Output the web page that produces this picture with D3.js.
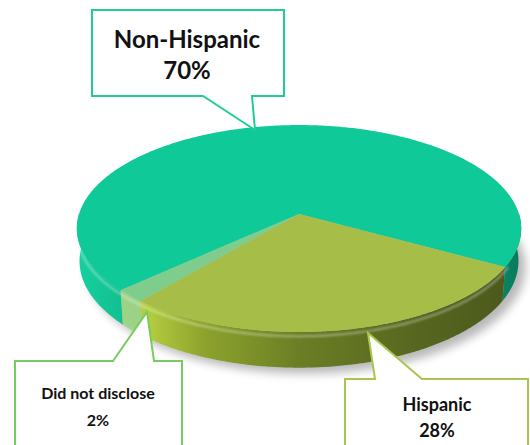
<!DOCTYPE html>
<html><head><meta charset="utf-8">
<script src="https://cdn.jsdelivr.net/npm/d3@7"></script>
<style>body{margin:0;background:#fff;overflow:hidden}</style>
</head><body><svg id="c" width="530" height="445"></svg>
<script>
const categories = ["Non-Hispanic", "Hispanic", "Did not disclose"];
const values = [70, 28, 2];
const percentLabels = ["70%", "28%", "2%"];

const svg = d3.select("#c");
const defs = svg.append("defs");

// 3D projection of a disk (radius 1, thickness H) viewed from above with perspective
const CX = 299, CY = 214, D = 6.33, F = 1392.6, SA = 0.461, CA = 0.887, H = 0.167;
function proj(phi, y) {
  const x = Math.cos(phi), z = Math.sin(phi);
  const d = D - y * SA - z * CA;
  return [CX + F * x / d, CY + F * (z * SA - y * CA) / d];
}

const pie = d3.pie().sort(null).value(d => d)
  .startAngle(227.2 * Math.PI / 180).endAngle(227.2 * Math.PI / 180 + 2 * Math.PI);
const arcs = pie(values);

const topCols = ["#10c998", "#a6be48", "#76d186"];
const topOpac = [1, 1, 0.85];

function grad(id, stops) {
  const g = defs.append("linearGradient").attr("id", id)
    .attr("gradientUnits", "userSpaceOnUse").attr("x1", 80).attr("x2", 522).attr("y1", 0).attr("y2", 0);
  stops.forEach(s => g.append("stop").attr("offset", s[0]).attr("stop-color", s[1]));
}
grad("g0", [[0, "#16cf9e"], [0.12, "#11bb8e"], [0.5, "#0e9f79"], [0.95, "#0a8464"], [1, "#097a5c"]]);
grad("g1", [[0, "#c3dc48"], [0.16, "#b2cb3f"], [0.28, "#8da32d"], [0.5, "#6b7d25"], [0.78, "#56651f"], [1, "#4a571b"]]);
grad("g2", [[0, "#9ad97e"], [1, "#7cc86c"]]);

const blur = defs.append("filter").attr("id", "blur").attr("x", "-20%").attr("y", "-20%").attr("width", "140%").attr("height", "140%");
blur.append("feGaussianBlur").attr("stdDeviation", 5);
const blur2 = defs.append("filter").attr("id", "blur2");
blur2.append("feGaussianBlur").attr("stdDeviation", 1);

function ring(a0, a1, y, n) {
  const pts = [];
  for (let i = 0; i <= n; i++) pts.push(proj(a0 + (a1 - a0) * i / n, y));
  return pts;
}
const line = d3.line();

// shadow
const shadowPts = ring(0, 2 * Math.PI, -H, 180).map(p => [p[0] + 7, p[1] + 6]);
svg.append("path").attr("d", line(shadowPts) + "Z").attr("fill", "#000").attr("opacity", 0.28).attr("filter", "url(#blur)");

// sides (front visible half phi in [0, PI])
arcs.forEach((a, i) => {
  const p0 = a.startAngle - Math.PI / 2, p1 = a.endAngle - Math.PI / 2;
  for (let k = -2; k <= 2; k++) {
    const s = Math.max(p0 + 2 * Math.PI * k, 0), e = Math.min(p1 + 2 * Math.PI * k, Math.PI);
    if (e <= s) continue;
    const n = Math.max(4, Math.ceil((e - s) / 0.01));
    const topR = ring(s, e, 0, n), botR = ring(e, s, -H, n);
    svg.append("path").attr("d", line(topR.concat(botR)) + "Z")
      .attr("fill", `url(#g${i})`).attr("opacity", topOpac[i]);
  }
});

// rim highlight
svg.append("path").attr("d", line(ring(Math.PI * 0.15, Math.PI, -0.02, 200)))
  .attr("fill", "none").attr("stroke", "#ffffff").attr("stroke-width", 2.2)
  .attr("opacity", 0.35).attr("filter", "url(#blur2)");

// top faces
arcs.forEach((a, i) => {
  const p0 = a.startAngle - Math.PI / 2, p1 = a.endAngle - Math.PI / 2;
  const n = Math.max(4, Math.ceil((p1 - p0) / 0.01));
  const pts = [[CX, CY]].concat(ring(p0, p1, 0, n));
  svg.append("path").attr("d", line(pts) + "Z").attr("fill", topCols[i]).attr("opacity", topOpac[i]);
});

// callouts
const callouts = [
  {box: [92, 10, 284, 96], ptr: [[203, 96], [255, 130], [252, 96]], stroke: "#22cc98",
   tx: 187, ty: [48, 79], size: 24},
  {box: [345, 379, 528, 460], ptr: [[375, 379], [368, 333], [422, 379]], stroke: "#a8c64e",
   tx: 437, ty: [411, 437], size: 18},
  {box: [15, 361, 182, 460], ptr: [[113, 361], [147, 312], [154, 361]], stroke: "#78cc5e",
   tx: 98, ty: [399, 426], size: 16}
];
callouts.forEach((c, i) => {
  const [x0, y0, x1, y1] = c.box;
  const g = svg.append("g");
  const p = c.ptr;
  let path;
  if (p[1][1] < y0) {
    path = `M${x0},${y0} L${p[0][0]},${y0} L${p[1][0]},${p[1][1]} L${p[2][0]},${y0} L${x1},${y0} L${x1},${y1} L${x0},${y1} Z`;
  } else {
    path = `M${x0},${y0} L${x1},${y0} L${x1},${y1} L${p[2][0]},${y1} L${p[1][0]},${p[1][1]} L${p[0][0]},${y1} L${x0},${y1} Z`;
  }
  g.append("path").attr("d", path).attr("fill", "#fff").attr("stroke", c.stroke)
    .attr("stroke-width", 2).attr("stroke-linejoin", "miter");
  g.append("text").attr("x", c.tx).attr("y", c.ty[0]).attr("text-anchor", "middle")
    .attr("font-family", "Lato, 'Open Sans', sans-serif").attr("font-weight", "bold")
    .attr("font-size", c.size).attr("fill", "#111").text(categories[i]);
  g.append("text").attr("x", c.tx).attr("y", c.ty[1]).attr("text-anchor", "middle")
    .attr("font-family", "Lato, 'Open Sans', sans-serif").attr("font-weight", "bold")
    .attr("font-size", c.size).attr("fill", "#111").text(percentLabels[i]);
});
</script>
</body></html>
